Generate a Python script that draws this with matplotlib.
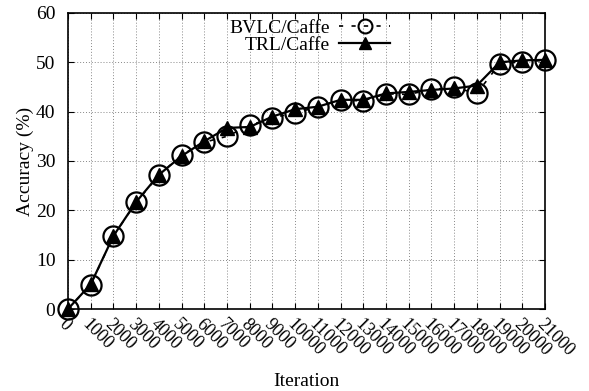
import matplotlib
matplotlib.use("Agg")
import matplotlib.pyplot as plt
from matplotlib.lines import Line2D

iterations = [0, 1000, 2000, 3000, 4000, 5000, 6000, 7000, 8000, 9000, 10000,
              11000, 12000, 13000, 14000, 15000, 16000, 17000, 18000, 19000,
              20000, 21000]
bvlc_acc = [0.0, 4.9, 14.8, 21.6, 27.1, 31.2, 33.8, 35.0, 37.2, 38.8, 39.7,
            41.0, 42.3, 42.2, 43.6, 43.5, 44.5, 44.9, 43.7, 49.7, 50.1, 50.4]
trl_acc = [0.0, 5.0, 14.8, 21.7, 27.2, 31.0, 34.0, 36.7, 36.9, 39.0, 40.5,
           41.0, 42.4, 42.4, 43.7, 44.0, 44.4, 44.7, 45.3, 50.0, 50.4, 50.5]
y_ticks = [0, 10, 20, 30, 40, 50, 60]

plt.rcParams['font.family'] = ['Liberation Serif', 'DejaVu Serif']

FS = 14
dash = (0, (2.5, 5))

fig = plt.figure(figsize=(5.89, 3.91), dpi=100)
ax = fig.add_axes([0.1154, 0.2097, 0.8099, 0.7571])

ax.plot(iterations, bvlc_acc, color='black', linestyle=dash, linewidth=1.2,
        marker='o', markersize=14.5, markerfacecolor='none', markeredgecolor='black',
        markeredgewidth=1.6, zorder=3, clip_on=False)
ax.plot(iterations, trl_acc, color='black', linestyle='-', linewidth=1.6,
        marker='^', markersize=10, markerfacecolor='black', markeredgecolor='black',
        zorder=4, clip_on=False)

ax.set_xlim(0, 21000)
ax.set_ylim(0, 60)
ax.set_xticks(iterations)
ax.set_xticklabels([str(v) for v in iterations], rotation=-45, ha='left', va='top',
                   rotation_mode='anchor', fontsize=13)
ax.set_yticks(y_ticks)
ax.set_yticklabels([str(v) for v in y_ticks], fontsize=FS)
ax.tick_params(axis='both', direction='in', length=4, width=0.8,
               top=True, right=True)
ax.tick_params(axis='y', pad=9)
ax.tick_params(axis='x', pad=5)

ax.grid(True, color='#888888', linestyle=(0, (1, 2)), linewidth=0.7)
ax.set_axisbelow(True)
for s in ax.spines.values():
    s.set_linewidth(1.2)

ax.set_xlabel('Iteration', fontsize=FS)
ax.xaxis.set_label_coords(0.5, -0.215)
ax.set_ylabel('Accuracy (%)', fontsize=FS)
ax.yaxis.set_label_coords(-0.072, 0.5)

handles = [
    Line2D([], [], color='black', linestyle=dash, linewidth=1.2, marker='o',
           markersize=10, markerfacecolor='none', markeredgecolor='black',
           markeredgewidth=1.5),
    Line2D([], [], color='black', linestyle='-', linewidth=1.6, marker='^',
           markersize=8, markerfacecolor='black', markeredgecolor='black'),
]
fig.legend(handles, ['BVLC/Caffe', 'TRL/Caffe'], loc='upper right',
           bbox_to_anchor=(390 / 589, 1 - 19 / 391), bbox_transform=fig.transFigure,
           frameon=False, markerfirst=False, fontsize=FS, handlelength=2.6,
           handletextpad=0.5, labelspacing=-0.02, borderpad=0, borderaxespad=0)

fig.savefig('out.png', dpi=100)
